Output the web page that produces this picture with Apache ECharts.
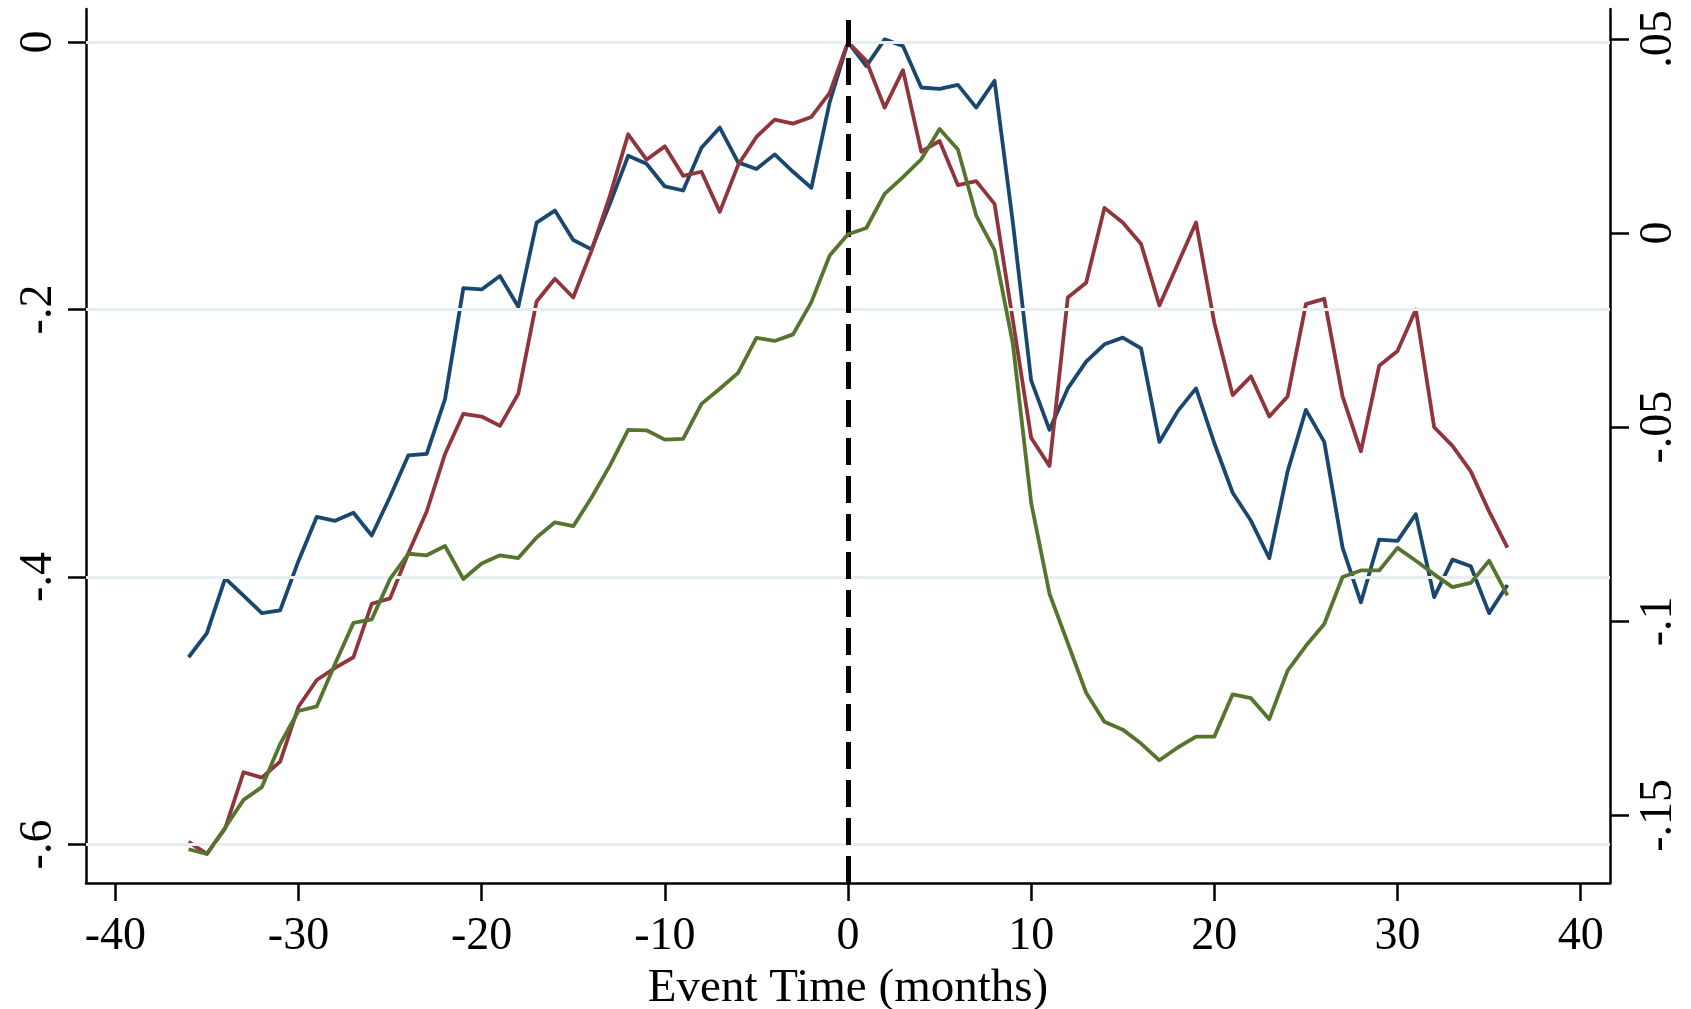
<!DOCTYPE html>
<html>
<head>
<meta charset="utf-8">
<script src="https://cdn.jsdelivr.net/npm/echarts@6/dist/echarts.min.js"></script>
<style>
  html, body { margin: 0; background: #fff; }
  #main { width: 1691px; height: 1009px; }
</style>
</head>
<body>
<div id="main"></div>
<script>
// event time in months
const months = [-36, -35, -34, -33, -32, -31, -30, -29, -28, -27, -26, -25, -24, -23, -22, -21, -20, -19,
  -18, -17, -16, -15, -14, -13, -12, -11, -10, -9, -8, -7, -6, -5, -4, -3, -2, -1,
  0, 1, 2, 3, 4, 5, 6, 7, 8, 9, 10, 11, 12, 13, 14, 15, 16, 17, 18,
  19, 20, 21, 22, 23, 24, 25, 26, 27, 28, 29, 30, 31, 32, 33, 34, 35, 36];

// left axis
const navyVals = [-0.460, -0.442, -0.401, -0.414, -0.427, -0.425, -0.388, -0.355, -0.358, -0.352, -0.369, -0.340,
  -0.309, -0.308, -0.267, -0.184, -0.185, -0.175, -0.198, -0.135, -0.126, -0.148, -0.155, -0.121,
  -0.085, -0.091, -0.108, -0.111, -0.079, -0.064, -0.090, -0.095, -0.084, -0.097, -0.109, -0.045,
  0.000, -0.018, 0.002, -0.003, -0.034, -0.035, -0.032, -0.049, -0.029, -0.135, -0.253, -0.290,
  -0.259, -0.239, -0.226, -0.221, -0.229, -0.299, -0.276, -0.259, -0.300, -0.337, -0.358, -0.386,
  -0.321, -0.275, -0.299, -0.378, -0.419, -0.372, -0.373, -0.353, -0.415, -0.387, -0.392, -0.427, -0.406];

const maroonVals = [-0.598, -0.607, -0.588, -0.546, -0.550, -0.538, -0.497, -0.477, -0.468, -0.460, -0.420, -0.416,
  -0.382, -0.351, -0.308, -0.278, -0.280, -0.287, -0.263, -0.194, -0.177, -0.191, -0.156, -0.115,
  -0.069, -0.088, -0.078, -0.100, -0.097, -0.127, -0.092, -0.071, -0.058, -0.061, -0.056, -0.038,
  0.000, -0.014, -0.049, -0.021, -0.082, -0.074, -0.107, -0.104, -0.121, -0.208, -0.296, -0.317,
  -0.191, -0.180, -0.124, -0.135, -0.151, -0.197, -0.166, -0.135, -0.210, -0.264, -0.250, -0.280,
  -0.265, -0.196, -0.192, -0.265, -0.306, -0.242, -0.231, -0.200, -0.288, -0.302, -0.321, -0.351, -0.378];

// right axis
const greenVals = [-0.1587, -0.1599, -0.1531, -0.1460, -0.1427, -0.1316, -0.1231, -0.1219, -0.1109, -0.1004, -0.0995, -0.0891,
  -0.0826, -0.0830, -0.0806, -0.0891, -0.0851, -0.0830, -0.0837, -0.0784, -0.0745, -0.0755, -0.0681, -0.0599,
  -0.0507, -0.0508, -0.0532, -0.0530, -0.0440, -0.0401, -0.0360, -0.0270, -0.0278, -0.0261, -0.0178, -0.0058,
  -0.0003, 0.0013, 0.0101, 0.0144, 0.0190, 0.0268, 0.0215, 0.0045, -0.0044, -0.0285, -0.0695, -0.0929,
  -0.1056, -0.1184, -0.1259, -0.1279, -0.1315, -0.1358, -0.1325, -0.1297, -0.1297, -0.1188, -0.1198, -0.1252,
  -0.1127, -0.1063, -0.1007, -0.0886, -0.0869, -0.0869, -0.0811, -0.0844, -0.0879, -0.0912, -0.0901, -0.0844, -0.0933];

const xTicks = [-40, -30, -20, -10, 0, 10, 20, 30, 40];
const leftTicks = [0, -0.2, -0.4, -0.6];
const rightTicks = [0.05, 0, -0.05, -0.1, -0.15];

const FONT = 'Liberation Serif';

function stataNum(v) {
  return String(+v.toFixed(2)).replace('0.', '.');
}
function pairs(vals) {
  return months.map((m, i) => [m, vals[i]]);
}

var myChart = echarts.init(document.getElementById('main'));

const axisLineStyle = { color: '#000', width: 2.5 };

myChart.setOption({
  animation: false,
  backgroundColor: '#fff',
  grid: { left: 86, right: 81, top: 9, bottom: 126, outerBoundsMode: 'none', containLabel: false },
  xAxis: {
    type: 'value',
    min: -41.6,
    max: 41.6,
    axisLine: { onZero: false, lineStyle: axisLineStyle },
    axisTick: { customValues: xTicks, length: 18, lineStyle: axisLineStyle },
    axisLabel: { customValues: xTicks, margin: 31, fontSize: 46, fontFamily: FONT, color: '#000' },
    splitLine: { show: false },
    name: 'Event Time (months)',
    nameLocation: 'middle',
    nameGap: 76,
    nameTextStyle: { fontSize: 47, fontFamily: FONT, color: '#000' }
  },
  yAxis: [
    {
      type: 'value',
      position: 'left',
      min: -0.6288,
      max: 0.0247,
      axisLine: { show: true, onZero: false, lineStyle: axisLineStyle },
      axisTick: { show: true, customValues: leftTicks, length: 18, lineStyle: axisLineStyle },
      axisLabel: { customValues: leftTicks, rotate: 90, margin: 24, fontSize: 46, fontFamily: FONT, color: '#000',
        formatter: stataNum },
      splitLine: { show: false }
    },
    {
      type: 'value',
      position: 'right',
      min: -0.1674,
      max: 0.0577,
      axisLine: { show: true, onZero: false, lineStyle: axisLineStyle },
      axisTick: { show: true, customValues: rightTicks, length: 19, lineStyle: axisLineStyle },
      axisLabel: { customValues: rightTicks, rotate: 90, margin: 26, fontSize: 46, fontFamily: FONT, color: '#000',
        formatter: stataNum },
      splitLine: { show: false }
    }
  ],
  series: [
    {
      // grid lines at the left ticks
      type: 'line', data: [], z: 1, silent: true,
      markLine: {
        silent: true, symbol: 'none', label: { show: false },
        lineStyle: { color: '#e6eef1', width: 3, type: 'solid' },
        data: leftTicks.map(v => ({ yAxis: v }))
      }
    },
    {
      type: 'line', data: pairs(navyVals), yAxisIndex: 0, showSymbol: false, symbol: 'none', z: 3,
      lineStyle: { color: '#1a476f', width: 3.8, join: 'round' }
    },
    {
      type: 'line', data: pairs(maroonVals), yAxisIndex: 0, showSymbol: false, symbol: 'none', z: 4,
      lineStyle: { color: '#90353b', width: 3.8, join: 'round' }
    },
    {
      type: 'line', data: pairs(greenVals), yAxisIndex: 1, showSymbol: false, symbol: 'none', z: 5,
      lineStyle: { color: '#55752f', width: 3.8, join: 'round' }
    },
    {
      // event date
      type: 'line', data: [], z: 10, silent: true,
      markLine: {
        silent: true, symbol: 'none', label: { show: false },
        lineStyle: { color: '#000', width: 5, type: [27, 11] },
        data: [{ xAxis: 0 }]
      }
    }
  ]
});
</script>
</body>
</html>
